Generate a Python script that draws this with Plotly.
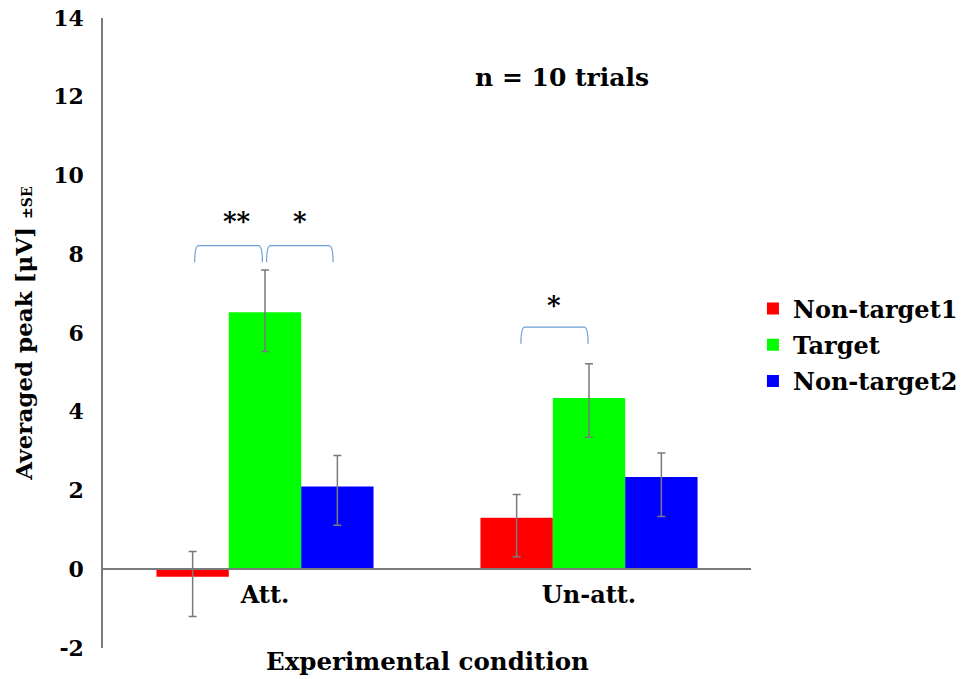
import plotly.graph_objects as go

conditions = ["Att.", "Un-att."]
series_names = ["Non-target1", "Target", "Non-target2"]
series_colors = ["#ff0000", "#00ff00", "#0000ff"]
values = {
    "Non-target1": [-0.19, 1.31],
    "Target": [6.53, 4.35],
    "Non-target2": [2.10, 2.34],
}
err_plus = {
    "Non-target1": [0.64, 0.59],
    "Target": [1.07, 0.87],
    "Non-target2": [0.79, 0.61],
}
err_minus = {
    "Non-target1": [1.01, 0.99],
    "Target": [1.00, 1.00],
    "Non-target2": [0.98, 1.00],
}
y_ticks = [-2, 0, 2, 4, 6, 8, 10, 12, 14]

# significance brackets: (x0, x1, y_top, y_bottom, label, label_x, label_y)
brackets = [
    (-0.217, -0.008, 8.22, 7.80, "**", -0.087, 8.85),
    (0.005, 0.210, 8.22, 7.80, "*", 0.108, 8.85),
    (0.790, 0.997, 6.15, 5.73, "*", 0.893, 6.70),
]

FONT = "DejaVu Serif"
x_pos = list(range(len(conditions)))

fig = go.Figure()
for name, color in zip(series_names, series_colors):
    fig.add_trace(go.Bar(
        x=x_pos, y=values[name], name=name, legendgroup=name,
        marker=dict(color=color, line=dict(width=0)),
        error_y=dict(type="data", symmetric=False,
                     array=err_plus[name], arrayminus=err_minus[name],
                     color="#7a7a7a", thickness=1.5, width=4),
    ))

shapes = []
annotations = []
for x0, x1, yt, yb, lab, lx, ly in brackets:
    r = 0.012
    path = (f"M {x0},{yb} Q {x0},{yt} {x0 + r},{yt} L {x1 - r},{yt} "
            f"Q {x1},{yt} {x1},{yb}")
    shapes.append(dict(type="path", path=path, xref="x", yref="y",
                       line=dict(color="#6a9fd8", width=1.2)))
    annotations.append(dict(x=lx, y=ly, xref="x", yref="y", text=lab,
                            showarrow=False,
                            font=dict(family=FONT, size=26, color="black", weight="bold")))

annotations.append(dict(x=0.916, y=12.49, xref="x", yref="y",
                        text="n = 10 trials", showarrow=False,
                        font=dict(family=FONT, size=25, color="black", weight="bold")))
annotations.append(dict(x=0.5, y=-0.022, xref="paper", yref="paper",
                        text="Experimental condition", showarrow=False,
                        yanchor="middle",
                        font=dict(family=FONT, size=24.5, color="black", weight="bold")))

# page body has an 8px margin, so the figure is sized to the visible area
fig.update_layout(
    width=957, height=671,
    margin=dict(l=95, r=214, t=10, b=31, autoexpand=False),
    paper_bgcolor="white", plot_bgcolor="white",
    barmode="group", bargap=0.33, bargroupgap=0,
    font=dict(family=FONT, size=18, color="black", weight="bold"),
    showlegend=True,
    legend=dict(x=1.003, y=0.481, xanchor="left", yanchor="middle",
                font=dict(family=FONT, size=24, color="black", weight="bold"),
                itemwidth=30, traceorder="grouped", tracegroupgap=2,
                bgcolor="rgba(0,0,0,0)"),
    shapes=shapes,
    annotations=annotations,
    xaxis=dict(
        range=[-0.5, 1.5], tickmode="array", tickvals=x_pos,
        ticktext=conditions, automargin=False,
        showgrid=False, zeroline=False, showline=True,
        linecolor="#7a7a7a", linewidth=1.5, ticks="",
        anchor="free", position=0.125, ticklabelstandoff=4,
        tickfont=dict(family=FONT, size=24, color="black", weight="bold"),
    ),
    yaxis=dict(
        range=[-2, 14], tickmode="array", tickvals=y_ticks,
        ticktext=[str(t) for t in y_ticks], automargin=False,
        showgrid=False, zeroline=False, showline=True,
        linecolor="#7a7a7a", linewidth=1.5, ticks="",
        ticklabelstandoff=13, ticklabeloverflow="allow",
        tickfont=dict(family=FONT, size=22, color="black", weight="bold"),
        title=dict(text="Averaged peak [μV] <span style='font-size:14px'>±SE</span>",
                   font=dict(family=FONT, size=23, color="black", weight="bold"), standoff=14),
    ),
)

fig.write_html("out.html")
